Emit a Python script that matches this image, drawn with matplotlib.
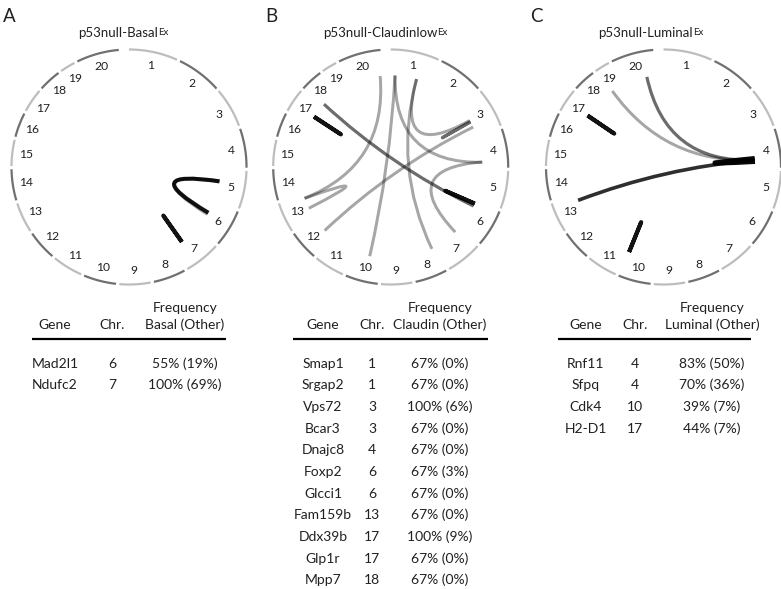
import numpy as np
import matplotlib.pyplot as plt
from matplotlib.path import Path
from matplotlib.patches import PathPatch

plt.rcParams['font.family'] = ['Lato', 'DejaVu Sans']

# mouse chromosome sizes (Mb), 20 = X
chrom_names = [str(i) for i in range(1, 21)]
chrom_mb = [195.5, 182.1, 160.0, 156.5, 151.8, 149.7, 145.4, 129.4, 124.6, 130.7,
            122.1, 120.1, 120.4, 124.9, 104.0, 98.2, 95.3, 90.7, 61.4, 171.0]

panel_letters = ['A', 'B', 'C']
panel_titles = ['p53null-Basal', 'p53null-Claudinlow', 'p53null-Luminal']
title_sup = 'Ex'
freq_headers = ['Basal (Other)', 'Claudin (Other)', 'Luminal (Other)']

# links between genomic positions: (chr, Mb) -> (chr, Mb), n = number of tumours
basal_from_chr = [5, 5, 7]
basal_from_mb = [54, 57.6, 100.5]
basal_to_chr = [6, 6, 7]
basal_to_mb = [72, 62.5, 102]
basal_n = [1, 6, 6]

claudin_from_chr = [1, 1, 1, 1, 20, 4, 3, 3, 6, 18, 17, 13]
claudin_from_mb = [22, 22, 133, 133, 158, 128, 117, 86, 10, 10.5, 37, 50]
claudin_to_chr = [10, 4, 3, 8, 13, 7, 12, 3, 6, 6, 17, 13]
claudin_to_mb = [56, 130, 79.5, 12, 105, 24, 44, 88, 11, 24, 38, 105]
claudin_n = [1, 1, 1, 1, 1, 1, 1, 2, 6, 2, 6, 1]

luminal_from_chr = [4, 4, 4, 4, 17, 10]
luminal_from_mb = [109, 118, 118, 118, 44, 127]
luminal_to_chr = [4, 20, 19, 13, 17, 10]
luminal_to_mb = [127, 126.6, 10.5, 94, 45, 128]
luminal_n = [8, 2, 1, 4, 6, 6]

# tables
basal_genes = ['Mad2l1', 'Ndufc2']
basal_gene_chr = [6, 7]
basal_pct = [55, 100]
basal_other = [19, 69]

claudin_genes = ['Smap1', 'Srgap2', 'Vps72', 'Bcar3', 'Dnajc8', 'Foxp2', 'Glcci1',
                 'Fam159b', 'Ddx39b', 'Glp1r', 'Mpp7']
claudin_gene_chr = [1, 1, 3, 3, 4, 6, 6, 13, 17, 17, 18]
claudin_pct = [67, 67, 100, 67, 67, 67, 67, 67, 100, 67, 67]
claudin_other = [0, 0, 6, 0, 0, 3, 0, 0, 9, 0, 0]

luminal_genes = ['Rnf11', 'Sfpq', 'Cdk4', 'H2-D1']
luminal_gene_chr = [4, 4, 10, 17]
luminal_pct = [83, 70, 39, 44]
luminal_other = [50, 36, 7, 7]

links = [(basal_from_chr, basal_from_mb, basal_to_chr, basal_to_mb, basal_n),
         (claudin_from_chr, claudin_from_mb, claudin_to_chr, claudin_to_mb, claudin_n),
         (luminal_from_chr, luminal_from_mb, luminal_to_chr, luminal_to_mb, luminal_n)]
tables = [(basal_genes, basal_gene_chr, basal_pct, basal_other),
          (claudin_genes, claudin_gene_chr, claudin_pct, claudin_other),
          (luminal_genes, luminal_gene_chr, luminal_pct, luminal_other)]

# layout (pixels)
centers_x = [129, 390.7, 663.5]
center_y = 167
R = 117.5
link_r = 0.78 * R
label_r = 0.885 * R
top_gap = 5.0
gap = 1.6
letter_x = [3, 265, 530]
title_x = [123, 385, 651]
col_gene = [55, 323, 586]
col_chr = [112, 372, 635]
col_freq = [185, 440, 712]
rule_x = [(32, 226), (293, 488), (558, 751)]
txt = '#231f20'
fs_tab = 10

scale = (360 - top_gap - gap * (len(chrom_mb) - 1)) / sum(chrom_mb)
chrom_start = []
acc = 0.0
for i, L in enumerate(chrom_mb):
    chrom_start.append(i * gap + acc * scale)
    acc += L


def angle(chrom, mb):
    return chrom_start[chrom - 1] + mb * scale


def pt(cx, r, deg):
    t = np.radians(deg)
    return cx + r * np.sin(t), center_y - r * np.cos(t)


fig = plt.figure(figsize=(7.81, 5.89), dpi=100)
ax = fig.add_axes([0, 0, 1, 1])
ax.set_xlim(0, 781)
ax.set_ylim(589, 0)
ax.axis('off')
renderer = fig.canvas.get_renderer()

for p in range(3):
    cx = centers_x[p]
    # chromosome ring
    for i, L in enumerate(chrom_mb):
        th = np.linspace(chrom_start[i], chrom_start[i] + L * scale, 60)
        xs, ys = pt(cx, R, th)
        ax.plot(xs, ys, color='#bdbdbd' if i % 2 == 0 else '#707070', lw=1.6,
                solid_capstyle='butt')
        lx, ly = pt(cx, label_r, chrom_start[i] + L * scale / 2)
        ax.text(lx, ly, chrom_names[i], ha='center', va='center', fontsize=8.7, color=txt)

    # links as quadratic bezier curves through the middle
    fc, fm, tc, tm, n = links[p]
    for k in range(len(fc)):
        a0 = angle(fc[k], fm[k])
        a1 = angle(tc[k], tm[k])
        d = (a1 - a0 + 180) % 360 - 180
        mid = a0 + d / 2
        p0 = pt(cx, link_r, a0)
        p2 = pt(cx, link_r, a1)
        c = pt(cx, 0.05 * R * np.cos(np.radians(d / 2)), mid)
        path = Path([p0, c, p2], [Path.MOVETO, Path.CURVE3, Path.CURVE3])
        alpha = 1 - 0.65 ** n[k]
        ax.add_patch(PathPatch(path, fill=False, edgecolor='black', alpha=alpha,
                               lw=2.0 + 0.15 * n[k], capstyle='butt', joinstyle='round'))

    ax.text(letter_x[p], 22, panel_letters[p], fontsize=13.5, color=txt, va='baseline')

    # title with superscript, centred as a whole
    t_main = ax.text(0, 37.3, panel_titles[p], fontsize=9.5, color=txt, va='baseline')
    t_sup = ax.text(0, 35.3, title_sup, fontsize=7, color=txt, va='baseline')
    w_main = t_main.get_window_extent(renderer).width
    w_sup = t_sup.get_window_extent(renderer).width
    x0 = title_x[p] - (w_main + w_sup) / 2
    t_main.set_x(x0)
    t_sup.set_x(x0 + w_main + 0.3)

    # table
    genes, gchr, pct, other = tables[p]
    ax.text(col_gene[p], 329.3, 'Gene', ha='center', va='baseline', fontsize=fs_tab, color=txt)
    ax.text(col_chr[p], 329.3, 'Chr.', ha='center', va='baseline', fontsize=fs_tab, color=txt)
    ax.text(col_freq[p], 311.7, 'Frequency', ha='center', va='baseline', fontsize=fs_tab, color=txt)
    ax.text(col_freq[p], 329.3, freq_headers[p], ha='center', va='baseline', fontsize=fs_tab,
            color=txt)
    ax.plot(rule_x[p], [339.3, 339.3], color='black', lw=1.6, solid_capstyle='butt')
    for i in range(len(genes)):
        y = 367.5 + i * 21.7
        ax.text(col_gene[p], y, genes[i], ha='center', va='baseline', fontsize=fs_tab, color=txt)
        ax.text(col_chr[p], y, str(gchr[i]), ha='center', va='baseline', fontsize=fs_tab, color=txt)
        ax.text(col_freq[p], y, f'{pct[i]}% ({other[i]}%)', ha='center', va='baseline',
                fontsize=fs_tab, color=txt)

fig.savefig('out.png', dpi=100)
